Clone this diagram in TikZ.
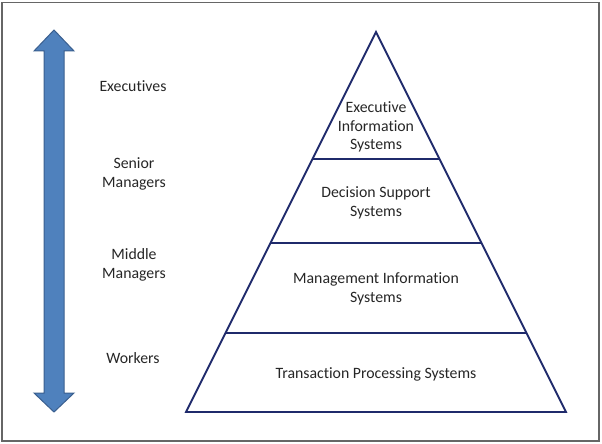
\documentclass[tikz,border=0pt]{standalone}
\usepackage{fontspec}
\setmainfont{Carlito}[Ligatures=NoCommon]
\usetikzlibrary{calc}
\definecolor{pyrline}{HTML}{1F2A6B}
\definecolor{arrfill}{HTML}{4F81BD}
\definecolor{arrline}{HTML}{3A5F8F}

\begin{document}
\begin{tikzpicture}[x=1pt,y=-1pt, every node/.style={font=\fontsize{15.8}{18.7}\selectfont, align=center, inner sep=0pt, text=black!85}]
            \useasboundingbox (0,0) rectangle (602,444);
            \draw[color=black!60, line width=1.2pt] (2,2.5) rectangle (599,441);
            % double arrow on the left
            \draw[fill=arrfill, draw=arrline, line width=1pt, line join=miter] (54,30) -- (74,51) -- (64,51) -- (64,393) -- (74,393) -- (54,412) -- (34,393) -- (44,393) -- (44,51) -- (34,51) -- cycle;
            % pyramid
            \coordinate (apex) at (376,32);
            \coordinate (bl) at (186,412);
            \coordinate (br) at (566,412);
            \coordinate (l1) at ($(apex)!0.334!(bl)$);
            \coordinate (r1) at ($(apex)!0.334!(br)$);
            \coordinate (l2) at ($(apex)!0.555!(bl)$);
            \coordinate (r2) at ($(apex)!0.555!(br)$);
            \coordinate (l3) at ($(apex)!0.792!(bl)$);
            \coordinate (r3) at ($(apex)!0.792!(br)$);
            \draw[pyrline, line width=1.8pt, line join=miter] (apex) -- (br) -- (bl) -- cycle;
            \draw[pyrline, line width=1.8pt] (l1) -- (r1);
            \draw[pyrline, line width=1.8pt] (l2) -- (r2);
            \draw[pyrline, line width=1.8pt] (l3) -- (r3);
            % levels
            \node (eis) at (376,127) {Executive\\Information\\Systems};
            \node (dss) at (376,203) {Decision Support\\Systems};
            \node (mis) at (376,289) {Management Information\\Systems};
            \node (tps) at (376,374) {Transaction Processing Systems};
            % users
            \node (exec) at (133,86) {Executives};
            \node (senior) at (134,174) {Senior\\Managers};
            \node (middle) at (134,265) {Middle\\Managers};
            \node (workers) at (133,358) {Workers};
        \end{tikzpicture}
\end{document}
